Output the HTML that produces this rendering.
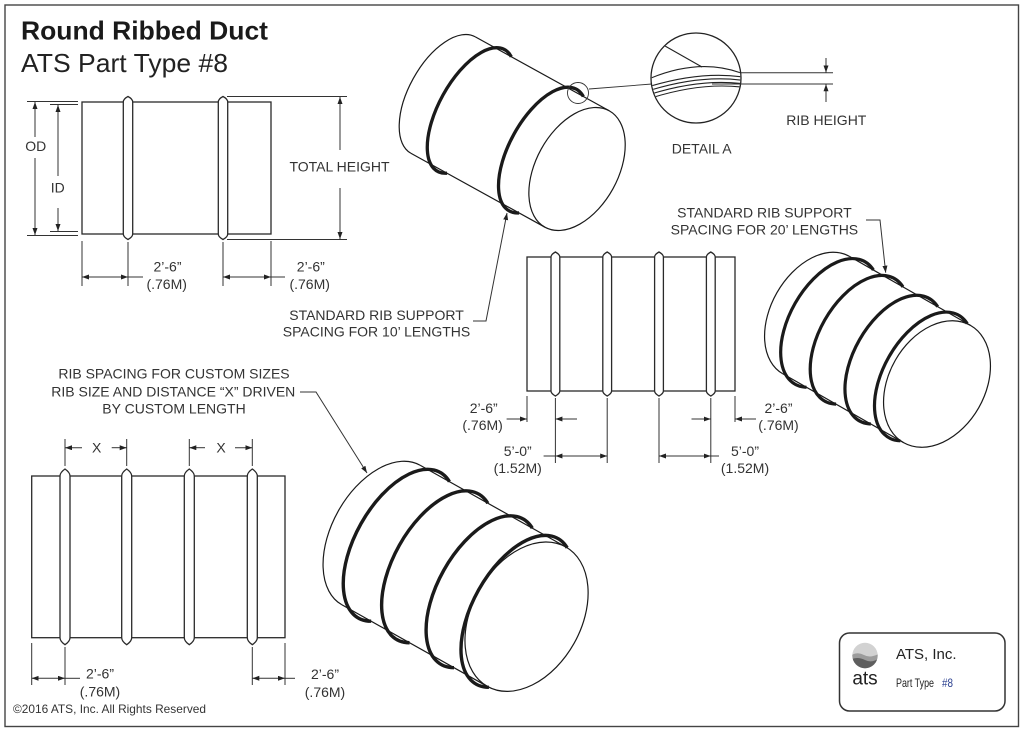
<!DOCTYPE html>
<html>
<head>
<meta charset="utf-8">
<style>
html,body{margin:0;padding:0;background:#fff;}
svg{display:block;}
</style>
</head>
<body>
<svg width="1024" height="731" viewBox="0 0 1024 731" xmlns="http://www.w3.org/2000/svg" font-family="'Liberation Sans', Arial, sans-serif">
<defs>
<marker id="a" markerWidth="8" markerHeight="6" refX="7" refY="2.5" orient="auto-start-reverse" markerUnits="userSpaceOnUse"><path d="M0,0 L7,2.5 L0,5 Z" fill="#222"/></marker>
<clipPath id="dc"><circle cx="696" cy="78" r="44.3"/></clipPath>
<clipPath id="lc"><circle cx="865" cy="655.5" r="12.7"/></clipPath>
</defs>
<rect width="1024" height="731" fill="#fff"/>
<rect x="5" y="5" width="1013.5" height="721.5" fill="none" stroke="#444" stroke-width="1.4"/>

<!-- Title -->
<text x="21" y="39.5" font-size="26" font-weight="bold" fill="#1a1a1a" textLength="247" lengthAdjust="spacingAndGlyphs">Round Ribbed Duct</text>
<text x="21" y="72" font-size="26" fill="#222" textLength="207" lengthAdjust="spacingAndGlyphs">ATS Part Type #8</text>

<!-- ===== Flat drawing 1 ===== -->
<g fill="none" stroke="#2a2a2a" stroke-width="1.3">
<rect x="82" y="102" width="189" height="132"/>
<path fill="#fff" d="M123.3,102 Q123.3,99 128,96.5 Q132.7,99 132.7,102 L132.7,234 Q132.7,237 128,239.5 Q123.3,237 123.3,234 Z"/>
<path fill="#fff" d="M218.3,102 Q218.3,99 223,96.5 Q227.7,99 227.7,102 L227.7,234 Q227.7,237 223,239.5 Q218.3,237 218.3,234 Z"/>
</g>
<g fill="none" stroke="#333" stroke-width="1">
<path d="M27,101.5 H78 M27,235.5 H78 M50,104.5 H78 M50,231.5 H78"/>
<path d="M35,137 V102" marker-end="url(#a)"/>
<path d="M35,158 V235" marker-end="url(#a)"/>
<path d="M58,176 V105" marker-end="url(#a)"/>
<path d="M58,208 V231" marker-end="url(#a)"/>
<path d="M227,96.5 H347 M227,239.5 H347"/>
<path d="M340,150 V97" marker-end="url(#a)"/>
<path d="M340,188 V239" marker-end="url(#a)"/>
<path d="M82,241 V286 M128,242 V286 M223,242 V286 M271,241 V286"/>
<path d="M82,277 H128" marker-start="url(#a)" marker-end="url(#a)"/>
<path d="M128,277 H143"/>
<path d="M223,277 H271" marker-start="url(#a)" marker-end="url(#a)"/>
<path d="M271,277 H285"/>
</g>

<!-- ===== Cylinder 1 ===== -->
<g transform="translate(443,95) rotate(28.9)" fill="none" stroke="#1a1a1a">
<path stroke-width="1.2" d="M0,-66.5 A34,66.5 0 0 0 0,66.5"/>
<path stroke-width="1.2" d="M0,-66.5 H153.1 M0,66.5 H153.1"/>
<ellipse stroke-width="1.2" cx="153.1" cy="0" rx="41" ry="66.5"/>
<path stroke-width="3.3" d="M41.3,-66.5 A32,69.5 0 1 0 41.3,66.5"/>
<path stroke-width="3.3" d="M123.6,-66.5 A33,69.5 0 1 0 123.6,66.5"/>
</g>
<circle cx="578" cy="93" r="10.5" fill="none" stroke="#333" stroke-width="0.9"/>
<path d="M589,89 L652,84" stroke="#333" stroke-width="0.9" fill="none"/>

<!-- Detail A -->
<circle cx="696" cy="78" r="45" fill="#fff" stroke="#222" stroke-width="1.3"/>
<g clip-path="url(#dc)" fill="none" stroke="#222" stroke-width="1.1">
<path d="M665,46 L702,67"/>
<path d="M651,78 Q700,58 741,73"/>
<path d="M651,86 Q700,71.4 741,76.7"/>
<path d="M651,90 Q700,75 741,80.1"/>
<path d="M651,94 Q700,78.8 741,83.5"/>
<path d="M651,98 Q700,82.5 741,87"/>
</g>
<g fill="none" stroke="#333" stroke-width="1">
<path d="M741,72.7 H833 M712,84 H833"/>
<path d="M826,58 V72.5" marker-end="url(#a)"/>
<path d="M826,102 V84.3" marker-end="url(#a)"/>
</g>

<!-- Leader 10' -->
<path d="M473,321 H486 L507,213" fill="none" stroke="#333" stroke-width="1" marker-end="url(#a)"/>

<!-- ===== Flat drawing 2 ===== -->
<g fill="none" stroke="#2a2a2a" stroke-width="1.3">
<rect x="527" y="257" width="208" height="134"/>
<path fill="#fff" d="M551,257 Q551,254.5 555.4,252 Q559.8,254.5 559.8,257 L559.8,391 Q559.8,393.5 555.4,396 Q551,393.5 551,391 Z"/>
<path fill="#fff" d="M602.8,257 Q602.8,254.5 607.2,252 Q611.6,254.5 611.6,257 L611.6,391 Q611.6,393.5 607.2,396 Q602.8,393.5 602.8,391 Z"/>
<path fill="#fff" d="M654.6,257 Q654.6,254.5 659,252 Q663.4,254.5 663.4,257 L663.4,391 Q663.4,393.5 659,396 Q654.6,393.5 654.6,391 Z"/>
<path fill="#fff" d="M706.4,257 Q706.4,254.5 710.8,252 Q715.2,254.5 715.2,257 L715.2,391 Q715.2,393.5 710.8,396 Q706.4,393.5 706.4,391 Z"/>
</g>
<g fill="none" stroke="#333" stroke-width="1">
<path d="M527,396 V422 M735,396 V422 M555.4,398 V463 M607.2,398 V463 M659,398 V463 M710.8,398 V463"/>
<path d="M506.6,419 H527" marker-end="url(#a)"/>
<path d="M577,419 H555.4" marker-end="url(#a)"/>
<path d="M691.5,419 H710.8" marker-end="url(#a)"/>
<path d="M756,419 H735" marker-end="url(#a)"/>
<path d="M555.4,456 H607.2" marker-start="url(#a)" marker-end="url(#a)"/>
<path d="M543.6,456 H555.4"/>
<path d="M659,456 H710.8" marker-start="url(#a)" marker-end="url(#a)"/>
<path d="M710.8,456 H719"/>
</g>

<!-- Leader 20' -->
<path d="M866,220 H880 L885.7,272.7" fill="none" stroke="#333" stroke-width="1" marker-end="url(#a)"/>

<!-- ===== Cylinder 2 ===== -->
<g transform="translate(816,315) rotate(29.7)" fill="none" stroke="#1a1a1a">
<path stroke-width="1.2" d="M0,-67.5 A45,67.5 0 0 0 0,67.5"/>
<path stroke-width="1.2" d="M0,-67.5 H139.3 M0,67.5 H139.3"/>
<ellipse stroke-width="1.2" cx="139.3" cy="0" rx="48" ry="67.5"/>
<path stroke-width="3.2" d="M27.6,-67.5 A40,70.5 0 1 0 27.6,67.5"/>
<path stroke-width="3.2" d="M61.6,-67.5 A40,70.5 0 1 0 61.6,67.5"/>
<path stroke-width="3.2" d="M101.6,-67.5 A40,70.5 0 1 0 101.6,67.5"/>
<path stroke-width="3.2" d="M135.6,-67.5 A40,70.5 0 1 0 135.6,67.5"/>
</g>

<!-- ===== Flat drawing 3 ===== -->
<g fill="none" stroke="#2a2a2a" stroke-width="1.3">
<rect x="31.7" y="476" width="253.3" height="161.7"/>
<path fill="#fff" d="M60,476 Q60,472.5 65,469 Q70,472.5 70,476 L70,637.7 Q70,641.2 65,644.7 Q60,641.2 60,637.7 Z"/>
<path fill="#fff" d="M121.7,476 Q121.7,472.5 126.7,469 Q131.7,472.5 131.7,476 L131.7,637.7 Q131.7,641.2 126.7,644.7 Q121.7,641.2 121.7,637.7 Z"/>
<path fill="#fff" d="M184.3,476 Q184.3,472.5 189.3,469 Q194.3,472.5 194.3,476 L194.3,637.7 Q194.3,641.2 189.3,644.7 Q184.3,641.2 184.3,637.7 Z"/>
<path fill="#fff" d="M247.3,476 Q247.3,472.5 252.3,469 Q257.3,472.5 257.3,476 L257.3,637.7 Q257.3,641.2 252.3,644.7 Q247.3,641.2 247.3,637.7 Z"/>
</g>
<g fill="none" stroke="#333" stroke-width="1">
<path d="M65,439 V466 M126.7,439 V466 M189.3,439 V466 M252.3,439 V466"/>
<path d="M82,447.7 H65" marker-end="url(#a)"/>
<path d="M111.7,447.7 H126.7" marker-end="url(#a)"/>
<path d="M205,447.7 H189.3" marker-end="url(#a)"/>
<path d="M235,447.7 H252.3" marker-end="url(#a)"/>
<path d="M31.7,643 V685 M65,647 V685 M252.3,647 V685 M285,643 V685"/>
<path d="M31.7,678.3 H65" marker-start="url(#a)" marker-end="url(#a)"/>
<path d="M65,678.3 H80"/>
<path d="M252.3,678.3 H285" marker-start="url(#a)" marker-end="url(#a)"/>
<path d="M285,678.3 H295"/>
</g>

<!-- Leader custom -->
<path d="M300,392 H316 L367,473" fill="none" stroke="#333" stroke-width="1" marker-end="url(#a)"/>

<!-- ===== Cylinder 3 ===== -->
<g transform="translate(381,535) rotate(29.3)" fill="none" stroke="#1a1a1a">
<path stroke-width="1.2" d="M0,-80 A49,80 0 0 0 0,80"/>
<path stroke-width="1.2" d="M0,-80 H166.9 M0,80 H166.9"/>
<ellipse stroke-width="1.2" cx="166.9" cy="0" rx="54.5" ry="80"/>
<path stroke-width="3.4" d="M33.6,-80 A44,83.5 0 1 0 33.6,80"/>
<path stroke-width="3.4" d="M77.6,-80 A44,83.5 0 1 0 77.6,80"/>
<path stroke-width="3.4" d="M128.6,-80 A44,83.5 0 1 0 128.6,80"/>
<path stroke-width="3.4" d="M168.6,-80 A44,83.5 0 1 0 168.6,80"/>
</g>

<!-- ===== Labels ===== -->
<g font-size="14" fill="#333" text-anchor="middle">
<text x="35.7" y="151">OD</text>
<text x="57.7" y="192.5">ID</text>
<text x="339.5" y="171.7">TOTAL HEIGHT</text>
<text x="167.5" y="271.5">2’-6”</text>
<text x="166.7" y="289">(.76M)</text>
<text x="310.8" y="271.5">2’-6”</text>
<text x="309.7" y="289">(.76M)</text>

<text x="826.3" y="125">RIB HEIGHT</text>
<text x="701.7" y="153.3">DETAIL A</text>

<text x="376.5" y="320">STANDARD RIB SUPPORT</text>
<text x="376.5" y="336.5">SPACING FOR 10’ LENGTHS</text>

<text x="764.4" y="217.7">STANDARD RIB SUPPORT</text>
<text x="764.4" y="234.3">SPACING FOR 20’ LENGTHS</text>

<text x="483.7" y="413">2’-6”</text>
<text x="482.6" y="430">(.76M)</text>
<text x="517.7" y="456">5’-0”</text>
<text x="517.7" y="473">(1.52M)</text>
<text x="778.5" y="413">2’-6”</text>
<text x="778.5" y="430">(.76M)</text>
<text x="745" y="456">5’-0”</text>
<text x="745" y="473">(1.52M)</text>

<text x="174" y="378.3">RIB SPACING FOR CUSTOM SIZES</text>
<text x="173.3" y="396.7">RIB SIZE AND DISTANCE “X” DRIVEN</text>
<text x="174" y="413.3">BY CUSTOM LENGTH</text>

<text x="96.7" y="452.7">X</text>
<text x="221" y="452.7">X</text>

<text x="100" y="678.3">2’-6”</text>
<text x="100" y="696.5">(.76M)</text>
<text x="325" y="679">2’-6”</text>
<text x="325" y="697">(.76M)</text>
</g>

<text x="13" y="713" font-size="11.6" fill="#333" textLength="193" lengthAdjust="spacingAndGlyphs">©2016 ATS, Inc. All Rights Reserved</text>

<!-- ===== Logo box ===== -->
<rect x="839.5" y="633" width="165.5" height="78" rx="10" ry="10" fill="#fff" stroke="#333" stroke-width="1.5"/>
<g clip-path="url(#lc)">
<rect x="850" y="640" width="32" height="32" fill="#d2d2d2"/>
<path d="M850,656 Q857,651 864,655 T882,652 V672 H850 Z" fill="#9c9c9c"/>
<path d="M850,660 Q857,656 865,660 T882,656 V672 H850 Z" fill="#5e5e5e"/>
</g>
<text x="865" y="684.7" font-size="19" fill="#222" text-anchor="middle">ats</text>
<text x="896" y="659" font-size="15" fill="#222">ATS, Inc.</text>
<text x="896" y="687" font-size="12" fill="#222" textLength="38" lengthAdjust="spacingAndGlyphs">Part Type</text>
<text x="942" y="687" font-size="12" fill="#2a3f8f" textLength="11" lengthAdjust="spacingAndGlyphs">#8</text>
</svg>
</body>
</html>
